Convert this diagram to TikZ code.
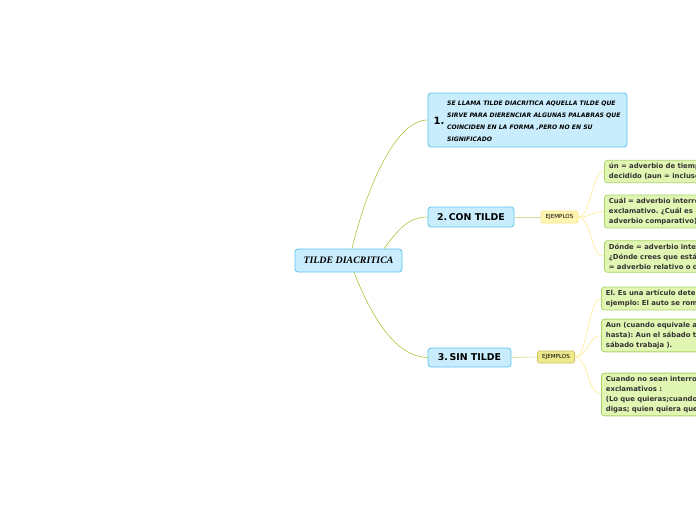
\documentclass[tikz,border=0pt]{standalone}
\usepackage{fontspec}
\setmainfont{DejaVu Sans}
\newfontfamily\titlefont{Liberation Serif}
\usetikzlibrary{positioning}
\frenchspacing

\definecolor{topicline}{HTML}{5CC3EE}
\definecolor{topicfill}{HTML}{C9EDFC}
\definecolor{leafline}{HTML}{A8D46A}
\definecolor{leaffill}{HTML}{E2F6B4}
\definecolor{tagfill}{HTML}{FFF4B0}
\definecolor{tagline}{HTML}{F6E68C}
\definecolor{tagfillb}{HTML}{EEE98C}
\definecolor{taglineb}{HTML}{CBC45E}
\definecolor{mainlink}{HTML}{A6C83E}
\definecolor{sublink}{HTML}{D8DC96}
\definecolor{leaflink}{HTML}{FDEB90}
\definecolor{inktext}{HTML}{333333}

\tikzset{
  topic/.style={draw=topicline, fill=topicfill, rounded corners=3pt,
    line width=0.8pt, inner sep=0pt},
  tagbox/.style={draw=tagline, fill=tagfill, rounded corners=1.5pt,
    line width=0.6pt, minimum width=37pt, minimum height=12pt, inner sep=0pt,
    font=\fontsize{5.6}{6}\selectfont},
  leafbox/.style={draw=leafline, fill=leaffill, rounded corners=3pt,
    line width=0.8pt, anchor=west, align=left, text width=150pt,
    inner xsep=4.5pt, inner ysep=3pt, text=inktext,
    font=\bfseries\fontsize{6.9}{10}\selectfont},
  mainedge/.style={draw=mainlink, line width=0.6pt},
  subedge/.style={draw=sublink, line width=0.6pt},
  leafedge/.style={draw=leaflink, line width=0.6pt}
}

\begin{document}
\begin{tikzpicture}[x=1pt,y=-1pt]
  \useasboundingbox (0,0) rectangle (696,520);
  \clip (0,0) rectangle (696,520);

  % central topic
  \node[topic, minimum width=107pt, minimum height=23pt,
        font=\titlefont\bfseries\itshape\fontsize{9.9}{11}\selectfont]
        (root) at (348.5,260.5) {TILDE DIACRITICA};

  % main topics
  \node[topic, minimum width=199pt, minimum height=54pt] (one) at (527.5,120) {};
  \node[font=\bfseries\fontsize{10}{11}\selectfont, anchor=west, inner sep=0pt]
        (onenum) at (433.5,120.5) {1.};
  \node[anchor=west, inner sep=0pt, align=left,
        font=\bfseries\itshape\fontsize{6.1}{12}\selectfont]
        (onetext) at (447,121) {SE LLAMA TILDE DIACRITICA AQUELLA TILDE QUE\\
        SIRVE PARA DIERENCIAR ALGUNAS PALABRAS QUE\\
        COINCIDEN EN LA FORMA ,PERO NO EN SU\\
        SIGNIFICADO};

  \node[topic, minimum width=86pt, minimum height=20pt,
        font=\bfseries\fontsize{9.4}{10}\selectfont]
        (two) at (471,217) {2.\,CON TILDE};
  \node[topic, minimum width=83pt, minimum height=19pt,
        font=\bfseries\fontsize{9.4}{10}\selectfont]
        (three) at (469.5,357.5) {3.\,SIN TILDE};

  % example tags
  \node[tagbox] (ejtwo) at (559.5,217) {EJEMPLOS};
  \node[tagbox, draw=taglineb, fill=tagfillb] (ejthree) at (556,357) {EJEMPLOS};

  % leaves of 2.
  \node[leafbox] (aun) at (604,171.5) {ún = adverbio de tiempo\\
    decidido (aun = incluso};
  \node[leafbox] (cual) at (604,211.5) {Cuál = adverbio interrogativo\\
    exclamativo. ¿Cuál es\\
    adverbio comparativo)};
  \node[leafbox] (donde) at (604,256.5) {Dónde = adverbio interrogativo\\
    ¿Dónde crees que está\\
    = adverbio relativo o de};

  % leaves of 3.
  \node[leafbox] (el) at (601,298.5) {El. Es una artículo determinado\\
    ejemplo: El auto se rompió};
  \node[leafbox] (aunb) at (601,335.5) {Aun (cuando equivale a\\
    hasta): Aun el sábado trabaja\\
    sábado trabaja ).};
  \node[leafbox] (cuando) at (601,394.5) {Cuando no sean interrogativos\\
    exclamativos :\\
    (Lo que quieras;cuando quieras\\
    digas; quien quiera que};

  % links from the centre
  \draw[mainedge] ([xshift=3.5pt]root.north) .. controls (366,190) and (395,120) .. (one.west);
  \draw[mainedge] ([xshift=35.5pt]root.north) .. controls (398,230) and (408,217) .. (two.west);
  \draw[mainedge] ([xshift=5.5pt]root.south) .. controls (372,318) and (396,357) .. (three.west);

  % links to the tags
  \draw[subedge] (two.east) -- (ejtwo.west);
  \draw[subedge] (three.east) -- (ejthree.west);

  % links to the leaves
  \foreach \leaf in {aun,cual,donde}
    \draw[leafedge] (ejtwo.east) .. controls +(13,0) and +(-13,0) .. (\leaf.west);
  \foreach \leaf in {el,aunb,cuando}
    \draw[leafedge] (ejthree.east) .. controls +(13,0) and +(-13,0) .. (\leaf.west);
\end{tikzpicture}
\end{document}
